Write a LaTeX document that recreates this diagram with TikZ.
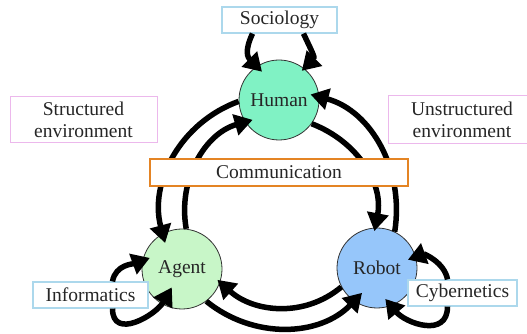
\documentclass[tikz,border=0pt]{standalone}
\usepackage{fontspec}
\setmainfont{Liberation Serif}
\usetikzlibrary{arrows.meta}
\definecolor{humanfill}{RGB}{128,242,196}
\definecolor{agentfill}{RGB}{200,246,200}
\definecolor{robotfill}{RGB}{150,198,250}
\definecolor{fieldline}{RGB}{172,216,236}
\definecolor{envline}{RGB}{236,184,236}
\definecolor{commline}{RGB}{228,132,36}
\begin{document}
\begin{tikzpicture}[x=1pt,y=1pt,
  font=\fontsize{19.5}{22}\selectfont,
  actor/.style={circle, draw=black!80, line width=0.8pt, minimum size=80pt, inner sep=0pt, text=black!85},
  field/.style={draw=fieldline, line width=1.2pt, fill=white, minimum height=26pt, inner sep=0pt, text=black!85},
  envbox/.style={draw=envline, line width=1pt, fill=white, align=center, inner sep=0pt, text=black!85},
  commbox/.style={draw=commline, line width=2pt, fill=white, minimum width=258pt, minimum height=27pt, inner sep=0pt, text=black!85},
  flow/.style={line width=5.5pt, -{Triangle[length=18pt,width=21pt]}}
]
\useasboundingbox (0,0) rectangle (527,334);

% the three actors
\node[actor, fill=humanfill] (human) at (279,234) {Human};
\node[actor, fill=agentfill] (agent) at (182,65) {Agent};
\node[actor, fill=robotfill] (robot) at (377,66) {Robot};

% ring of exchanges between the actors
\draw[flow] (human.182) to[out=200, in=105] ([shift={(123:31)}]agent.center);
\draw[flow] (agent.84) to[out=100, in=196] ([shift={(217:33)}]human.center);
\draw[flow] (robot.64) to[out=81, in=345] ([shift={(10:32)}]human.center);
\draw[flow] (human.-36) to[out=-21, in=79] ([shift={(94:37)}]robot.center);
\draw[flow] (robot.208) to[out=220, in=318] ([shift={(-17:37)}]agent.center);
\draw[flow] (agent.-53) to[out=321, in=226] ([shift={(239:29)}]robot.center);

% disciplines and environments
\node[field, minimum width=115pt] (sociology) at (279.5,314) {Sociology};
\node[field, minimum width=115pt] (informatics) at (90.5,39) {Informatics};
\node[field, minimum width=109pt] (cybernetics) at (462.5,41) {Cybernetics};
\node[envbox, minimum width=147pt, minimum height=46pt] (structured) at (83.5,214) {Structured\\environment};
\node[envbox, minimum width=148pt, minimum height=48pt] (unstructured) at (462,214) {Unstructured\\environment};
\node[commbox] (communication) at (279,161.5) {Communication};

% discipline loops into each actor
\draw[flow] ([xshift=-27pt]sociology.south) to[out=245, in=135, looseness=1.3] ([shift={(121:33)}]human.center);
\draw[flow] ([xshift=24pt]sociology.south) to[out=-65, in=45, looseness=1.3] ([shift={(52:37)}]human.center);
\draw[flow] ([xshift=22pt]informatics.north) to[out=80, in=200] ([shift={(161:34)}]agent.center);
\draw[flow] ([xshift=22pt]informatics.south) to[out=-90, in=240, looseness=1.3] ([shift={(241:21)}]agent.center);
\draw[flow] ([xshift=-15pt]cybernetics.north) to[out=100, in=20] ([shift={(15:32)}]robot.center);
\draw[flow] ([xshift=-15pt]cybernetics.south) to[out=-90, in=310, looseness=1.3] ([shift={(-75:32)}]robot.center);
\end{tikzpicture}
\end{document}
